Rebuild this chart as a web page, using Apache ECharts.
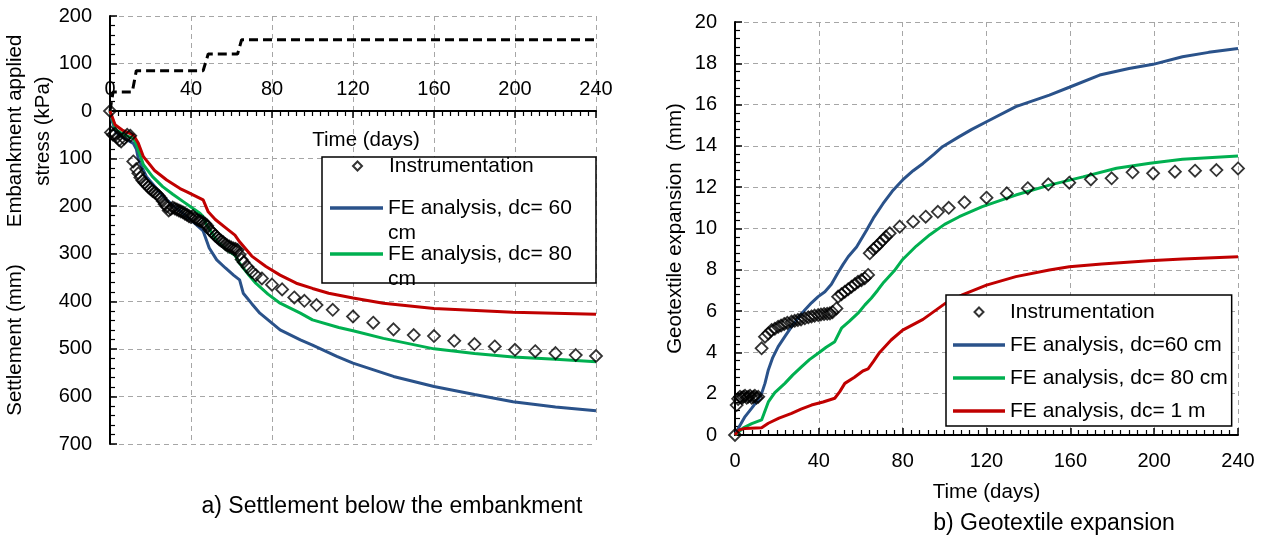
<!DOCTYPE html>
<html>
<head>
	<meta charset="UTF-8">
	<title>Settlement and geotextile expansion</title>
	<script src="https://cdn.jsdelivr.net/npm/echarts/dist/echarts.min.js"></script>
	<style>
		html, body { margin: 0; padding: 0; background: #fff; }
		#main { width: 1263px; height: 539px; }
	</style>
</head>
<body>
<div id="main"></div>
<script type="text/javascript">
	// ---- a) settlement below the embankment (days, mm) ----
	var stressSteps = [[0,0],[1.5,40],[11,40],[13,85],[46,85],[48.5,120],[63,120],[65,150],[240,150]]; // kPa
	var settleInstr = [[0,0],[0.5,45],[1.5,50],[2.5,48],[3.5,55],[4.5,61],[5.5,64],[7,58],[8.5,50],[10,52],
		[11.5,106],[13,122],[14,131],[15,140],[16,146],[17,151],[18,155],[19,160],[20,164],[21,168],[22,171],
		[23,174],[24,178],[25,183],[26,189],[27,196],[28,201],[29,209],[30,206],[31,203],[32,205],[33,207],
		[34,209],[35,211],[36,213],[37,216],[38,218],[39,221],[40,223],[41,221],[42,225],[43,228],[44,230],
		[45,232],[46,234],[47,237],[48,241],[49,249],[50,253],[51,257],[52,262],[53,266],[54,270],[55,273],
		[56,276],[57,280],[58,283],[59,285],[60,287],[61,289],[62,290],[63,292],[64,302],[65,312],[66,318],
		[68,328],[70,338],[72,345],[75,352],[80,365],[85,375],[91,392],[96,399],[102,408],[110,418],[120,432],
		[130,445],[140,459],[150,471],[160,473],[170,483],[180,490],[190,495],[200,502],[210,505],[220,509],
		[230,513],[240,515]];
	var settleFE60 = [[0,0],[1,20],[3,45],[6,55],[9,62],[11.5,68],[13,80],[14,100],[16,120],[18,138],[22,158],
		[28,187],[33,205],[38,222],[42,237],[46,252],[47.5,270],[49,288],[52.7,313],[57,330],[61,345],[64,355],
		[65.8,383],[70,405],[74,425],[84,460],[94,481],[100,492],[112,516],[120,530],[140,558],[160,579],
		[180,596],[199,611],[220,622],[240,630]];
	var settleFE80 = [[0,0],[1,15],[3,40],[7,50],[11.5,57],[13,70],[14,82],[16.5,113],[21,138],[26,159],[31,175],
		[36,190],[41,205],[44.4,215],[46,222],[47.7,240],[49.4,250],[52.7,273],[57,290],[61.7,303],[64,320],
		[68,342],[72,362],[78,385],[84,404],[94,425],[100,439],[113,455],[120,462],[135,478],[160,500],
		[180,510],[199,517],[220,522],[240,527]];
	var settleFE1m = [[0,0],[2.5,29],[6,40],[11.5,50],[14,68],[16.5,96],[22,125],[28,145],[34.6,163],[38,170],
		[46,187],[48.5,212],[52,228],[57,245],[61.7,261],[64,275],[70,305],[77,327],[84,345],[92,362],[100,373],
		[108,383],[120,393],[135,404],[160,415],[199,423],[240,427]];

	// ---- b) geotextile expansion (days, mm) ----
	var expInstr = [[0,0],[0.8,1.45],[1.5,1.75],[2.4,1.85],[3.2,1.8],[4,1.85],[4.8,1.9],[5.6,1.8],[6.3,1.85],
		[7.2,1.9],[8,1.8],[8.8,1.85],[9.5,1.9],[10.3,1.8],[11.1,1.85],[12.7,4.2],[14.3,4.76],[15.9,4.92],
		[17.5,5.08],[19,5.15],[20.6,5.24],[22,5.3],[23.5,5.38],[25,5.43],[27,5.49],[28.5,5.53],[30,5.57],
		[31.5,5.6],[33.3,5.65],[35,5.7],[36.5,5.74],[38,5.78],[39.7,5.81],[41,5.84],[42.5,5.86],[44,5.87],
		[45.3,5.89],[46.5,5.95],[48.4,6.13],[49.2,6.7],[50.8,6.82],[52.4,6.94],[54,7.06],[55.6,7.18],
		[57.2,7.3],[58.7,7.42],[60.3,7.5],[61.9,7.59],[63.5,7.75],[64.3,8.8],[66,9.0],[67.5,9.12],[69,9.28],
		[70.6,9.44],[72,9.6],[73.8,9.77],[78.6,10.09],[85,10.33],[91,10.57],[96.8,10.81],[102,11.0],
		[109.5,11.27],[120,11.49],[129.7,11.7],[139.7,11.95],[149.5,12.14],[159.5,12.22],[169.8,12.38],
		[179.7,12.43],[189.7,12.72],[199.5,12.67],[209.9,12.75],[219.5,12.8],[229.7,12.83],[240,12.91]];
	var expFE60 = [[0,0],[2,0.4],[4.8,0.89],[8,1.3],[11,1.7],[13,2.1],[14.3,2.5],[15.9,3.15],[18,3.75],
		[20.6,4.28],[24,4.8],[27,5.25],[30,5.65],[33.3,6.05],[36.5,6.4],[39.7,6.7],[42.9,6.94],[46,7.3],
		[49,7.83],[51.5,8.25],[54,8.63],[58,9.1],[62.7,9.9],[66,10.5],[70.6,11.2],[75,11.8],[80,12.35],
		[85,12.8],[89.7,13.15],[95,13.6],[99,13.96],[107,14.45],[113,14.8],[120,15.17],[134,15.9],[150,16.46],
		[159.5,16.84],[174,17.43],[188,17.75],[199.5,17.95],[213.5,18.32],[226,18.53],[240,18.72]];
	var expFE80 = [[0,0],[4,0.35],[8,0.55],[12.7,0.73],[15.9,1.6],[19,2.05],[23.8,2.5],[27.5,2.9],[31.7,3.3],
		[35.5,3.65],[39.7,3.96],[43.5,4.25],[47.6,4.52],[50.8,5.17],[54.5,5.5],[58.7,5.9],[62,6.3],[65,6.62],
		[68,7.0],[71,7.4],[76,7.95],[80,8.5],[86.5,9.15],[93,9.7],[100,10.2],[107,10.57],[118,11.06],
		[134,11.62],[150,12.1],[166,12.5],[182,12.92],[198,13.16],[213.5,13.35],[240,13.51]];
	var expFE1m = [[0,0],[2,0.25],[4.8,0.32],[12.7,0.35],[15.9,0.57],[21,0.82],[27,1.05],[31.5,1.25],
		[36.5,1.45],[42,1.6],[47.6,1.78],[50,2.1],[52.4,2.5],[57,2.8],[61,3.1],[63.5,3.2],[66,3.55],[69,4.0],
		[74.5,4.6],[80,5.08],[89.7,5.6],[100,6.35],[108.7,6.8],[120,7.26],[134,7.67],[150,7.99],[159.5,8.15],
		[175,8.28],[197.6,8.44],[213.5,8.52],[240,8.63]];

	var FONT = '"Liberation Sans", Arial, sans-serif';
	var BLUE = '#2a528a', GREEN = '#00b050', RED = '#c00000';
	var GRIDLINE = {show: true, lineStyle: {color: '#a6a6a6', width: 1, type: [5, 4]}};
	var LINE_ICON = 'path://M0,0H52V3.5H0Z';
	var DIAMOND_ICON = 'path://M5,0L10,5L5,10L0,5Z';

	function lineSeries(name, data, color, idx) {
		return {
			name: name, type: 'line', data: data, xAxisIndex: idx, yAxisIndex: idx,
			symbol: 'none', lineStyle: {color: color, width: 3}, itemStyle: {color: color}, z: 2
		};
	}
	function instrSeries(data, idx) {
		return {
			name: 'Instrumentation', type: 'scatter', data: data, xAxisIndex: idx, yAxisIndex: idx,
			symbol: 'diamond', symbolSize: 12, z: 3,
			itemStyle: {color: 'rgba(0,0,0,0)', borderColor: '#000', borderWidth: 1.8}
		};
	}
	// value axis with inside major + minor ticks
	function valueAxis(o) {
		var ax = {
			type: 'value',
			axisLine: {show: true, onZero: false, lineStyle: {color: '#000', width: 2}},
			axisTick: {show: true, inside: true, length: 7, lineStyle: {color: '#000', width: 1.5}},
			minorTick: {show: true, splitNumber: o.minor, length: 5, lineStyle: {color: '#000', width: 1.2}},
			axisLabel: {margin: o.margin, fontSize: 20, color: '#000', fontFamily: FONT, showMinLabel: o.minLabel !== false},
			splitLine: GRIDLINE
		};
		for (var k in o) {
			if (k !== 'minor' && k !== 'margin' && k !== 'minLabel') ax[k] = o[k];
		}
		return ax;
	}

	var chart = echarts.init(document.getElementById('main'));

	var option = {
		animation: false,
		backgroundColor: '#fff',
		textStyle: {fontFamily: FONT, color: '#000'},
		grid: [
			// left chart: stress part above, settlement part below, sharing the time axis at 0
			{left: 110, top: 16, width: 486, height: 95, outerBoundsMode: 'none', containLabel: false},
			{left: 110, top: 111, width: 486, height: 333, outerBoundsMode: 'none', containLabel: false},
			{left: 735, top: 22, width: 503, height: 413, outerBoundsMode: 'none', containLabel: false}
		],
		xAxis: [
			{gridIndex: 0, type: 'value', min: 0, max: 240, interval: 40,
				axisLine: {show: false}, axisTick: {show: false}, axisLabel: {show: false}, splitLine: GRIDLINE},
			valueAxis({gridIndex: 1, min: 0, max: 240, interval: 40, position: 'top', minor: 10, margin: 12}),
			valueAxis({gridIndex: 2, min: 0, max: 240, interval: 40, minor: 10, margin: 16,
				name: 'Time (days)', nameLocation: 'middle', nameGap: 47,
				nameTextStyle: {fontSize: 20.5, color: '#000', fontFamily: FONT}})
		],
		yAxis: [
			valueAxis({gridIndex: 0, min: 0, max: 200, interval: 100, minor: 5, margin: 18}),
			valueAxis({gridIndex: 1, min: 0, max: 700, interval: 100, inverse: true, minor: 5, margin: 18, minLabel: false}),
			valueAxis({gridIndex: 2, min: 0, max: 20, interval: 2, minor: 5, margin: 18,
				name: 'Geotextile expansion  (mm)', nameLocation: 'middle', nameGap: 49,
				nameTextStyle: {fontSize: 20.5, color: '#000', fontFamily: FONT}})
		],
		legend: [
			{   // left chart, first entry (this one lays out from the diamond's own box)
				data: [{name: 'Instrumentation', icon: DIAMOND_ICON}], orient: 'vertical', left: 352, top: 154.5,
				padding: 0, itemWidth: 53, itemHeight: 9, itemGap: 0, symbolKeepAspect: true,
				selectedMode: false, z: 6,
				textStyle: {fontSize: 21, lineHeight: 23, color: '#000', fontFamily: FONT}
			},
			{   // left chart, wrapped entries; blank first line keeps the text's first line level with the icon
				data: [{name: 'FE analysis, dc= 60 cm', icon: LINE_ICON}, {name: 'FE analysis, dc= 80 cm', icon: LINE_ICON}],
				orient: 'vertical', left: 330, top: 170.5, padding: 0, itemWidth: 53, itemHeight: 9, itemGap: -29,
				symbolKeepAspect: true, selectedMode: false, z: 6,
				formatter: function (n) { return ' \n' + n.replace(' cm', '\ncm'); },
				textStyle: {fontSize: 21, lineHeight: 25, color: '#000', fontFamily: FONT}
			},
			{   // right chart
				data: [
					{name: 'Instrumentation', icon: DIAMOND_ICON},
					{name: 'FE analysis, dc=60 cm', icon: LINE_ICON},
					{name: 'FE analysis, dc= 80 cm', icon: LINE_ICON},
					{name: 'FE analysis, dc= 1 m', icon: LINE_ICON}
				],
				orient: 'vertical', left: 946, top: 295, padding: [5.5, 4, 3.5, 7],
				itemWidth: 52, itemHeight: 9, itemGap: 10, itemTextGap: 7, symbolKeepAspect: true,
				selectedMode: false, z: 6,
				backgroundColor: '#fff', borderColor: '#000', borderWidth: 1.5,
				textStyle: {fontSize: 21, lineHeight: 23, color: '#000', fontFamily: FONT}
			}
		],
		graphic: [
			{type: 'rect', z: 4, shape: {x: 322, y: 157, width: 274, height: 126},
				style: {fill: '#fff', stroke: '#000', lineWidth: 1.5}},
			{type: 'text', x: 366, y: 140, z: 5,
				style: {text: 'Time (days)', font: '20.5px ' + FONT, fill: '#000',
					align: 'center', verticalAlign: 'middle', textAlign: 'center', textVerticalAlign: 'middle'}},
			{type: 'text', x: 15, y: 131, rotation: Math.PI / 2, z: 5,
				style: {text: 'Embankment applied', font: '20.5px ' + FONT, fill: '#000',
					align: 'center', verticalAlign: 'middle', textAlign: 'center', textVerticalAlign: 'middle'}},
			{type: 'text', x: 43, y: 131, rotation: Math.PI / 2, z: 5,
				style: {text: 'stress (kPa)', font: '20.5px ' + FONT, fill: '#000',
					align: 'center', verticalAlign: 'middle', textAlign: 'center', textVerticalAlign: 'middle'}},
			{type: 'text', x: 15, y: 340, rotation: Math.PI / 2, z: 5,
				style: {text: 'Settlement (mm)', font: '20.5px ' + FONT, fill: '#000',
					align: 'center', verticalAlign: 'middle', textAlign: 'center', textVerticalAlign: 'middle'}},
			{type: 'text', x: 392, y: 507, z: 5,
				style: {text: 'a) Settlement below the embankment', font: '23px ' + FONT, fill: '#000',
					align: 'center', verticalAlign: 'middle', textAlign: 'center', textVerticalAlign: 'middle'}},
			{type: 'text', x: 1054, y: 524, z: 5,
				style: {text: 'b) Geotextile expansion', font: '23px ' + FONT, fill: '#000',
					align: 'center', verticalAlign: 'middle', textAlign: 'center', textVerticalAlign: 'middle'}}
		],
		series: [
			{
				name: 'Applied stress', type: 'line', data: stressSteps, xAxisIndex: 0, yAxisIndex: 0,
				symbol: 'none', lineStyle: {color: '#000', width: 3, type: [9, 5]}, z: 2
			},
			lineSeries('FE analysis, dc= 60 cm', settleFE60, BLUE, 1),
			lineSeries('FE analysis, dc= 80 cm', settleFE80, GREEN, 1),
			lineSeries('FE analysis, dc= 1 m', settleFE1m, RED, 1),
			instrSeries(settleInstr, 1),
			lineSeries('FE analysis, dc=60 cm', expFE60, BLUE, 2),
			lineSeries('FE analysis, dc= 80 cm', expFE80, GREEN, 2),
			lineSeries('FE analysis, dc= 1 m', expFE1m, RED, 2),
			instrSeries(expInstr, 2)
		]
	};

	chart.setOption(option);

	window.addEventListener('resize', function () {
		chart.resize();
	});
</script>
</body>
</html>
